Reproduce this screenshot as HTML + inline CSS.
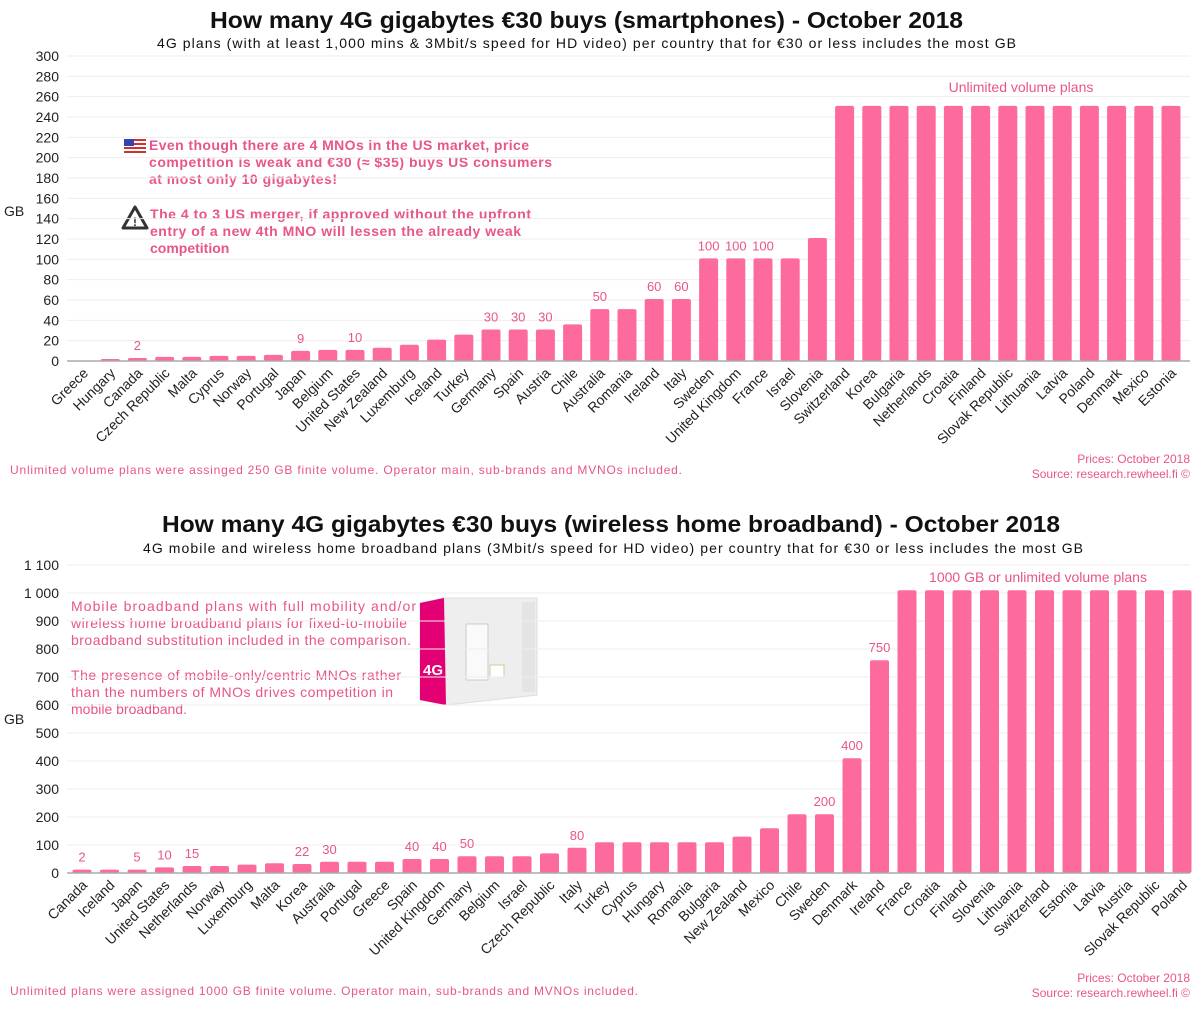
<!DOCTYPE html>
<html><head><meta charset="utf-8"><style>
body{margin:0;background:#fff;width:1200px;height:1014px;overflow:hidden;font-family:"Liberation Sans",sans-serif}
svg text{font-family:"Liberation Sans",sans-serif}
</style></head><body>
<svg id="s" width="1200" height="1014" xmlns="http://www.w3.org/2000/svg">
<text x="210" y="28" textLength="753" lengthAdjust="spacingAndGlyphs" font-size="23" font-weight="bold" fill="#111">How many 4G gigabytes €30 buys (smartphones) - October 2018</text>
<text x="157" y="48" textLength="859" lengthAdjust="spacing" font-size="14" fill="#111">4G plans (with at least 1,000 mins &amp; 3Mbit/s speed for HD video) per country that for €30 or less includes the most GB</text>
<text x="4" y="216" font-size="14" fill="#222">GB</text>
<text x="1021" y="92" text-anchor="middle" font-size="14" fill="#e8558a">Unlimited volume plans</text>
<g><rect x="124" y="139" width="22" height="14" fill="#c33"/><rect x="124" y="141" width="22" height="2" fill="#fff"/><rect x="124" y="145" width="22" height="2" fill="#fff"/><rect x="124" y="149" width="22" height="2" fill="#fff"/><rect x="124" y="139" width="10" height="7" fill="#34a"/></g>
<g font-size="14" font-weight="bold" fill="#e8558a">
<text x="149" y="150" textLength="380" lengthAdjust="spacing">Even though there are 4 MNOs in the US market, price</text>
<text x="149" y="167" textLength="403" lengthAdjust="spacing">competition is weak and €30 (≈ $35) buys US consumers</text>
<text x="149" y="184" textLength="188" lengthAdjust="spacing">at most only 10 gigabytes!</text>
<text x="150" y="219" textLength="381" lengthAdjust="spacing">The 4 to 3 US merger, if approved without the upfront</text>
<text x="150" y="236" textLength="371" lengthAdjust="spacing">entry of a new 4th MNO will lessen the already weak</text>
<text x="150" y="253">competition</text></g>
<g><path d="M135 207 L147 228 L123 228 Z" fill="none" stroke="#333" stroke-width="3" stroke-linejoin="round"/><text x="135" y="226" text-anchor="middle" font-size="12" font-weight="bold" fill="#333">!</text></g>
<text x="10" y="474" textLength="672" lengthAdjust="spacing" font-size="12" fill="#e8558a">Unlimited volume  plans were assinged 250 GB finite volume.  Operator main, sub-brands and MVNOs included.</text>
<text x="1190" y="463" text-anchor="end" font-size="12" fill="#e8558a">Prices: October 2018</text>
<text x="1190" y="478" text-anchor="end" font-size="12" fill="#e8558a">Source: research.rewheel.fi   ©</text>

<text x="162" y="532" textLength="898" lengthAdjust="spacingAndGlyphs" font-size="23" font-weight="bold" fill="#111">How many 4G gigabytes €30 buys (wireless home broadband) - October 2018</text>
<text x="143" y="553" textLength="940" lengthAdjust="spacing" font-size="14" fill="#111">4G mobile and wireless home broadband plans (3Mbit/s speed for HD video) per country that for €30 or less includes the most GB</text>
<text x="4" y="724" font-size="14" fill="#222">GB</text>
<text x="1038" y="582" text-anchor="middle" font-size="14" fill="#e8558a">1000 GB or unlimited volume plans</text>
<g font-size="14" fill="#e8558a">
<text x="71" y="611" textLength="345" lengthAdjust="spacing">Mobile broadband plans with full mobility and/or</text>
<text x="71" y="628" textLength="336" lengthAdjust="spacing">wireless home broadband plans for fixed-to-mobile</text>
<text x="71" y="645" textLength="340" lengthAdjust="spacing">broadband substitution included in the comparison.</text>
<text x="71" y="680" textLength="330" lengthAdjust="spacing">The presence of mobile-only/centric MNOs rather</text>
<text x="71" y="697" textLength="322" lengthAdjust="spacing">than the numbers of MNOs drives competition in</text>
<text x="71" y="714">mobile broadband.</text></g>
<g>
<rect x="416" y="590" width="130" height="118" fill="#fff"/>
<path d="M420 603 L444 598 L537 598 L537 695 L446 705 L420 700 Z" fill="#eee" stroke="#ddd"/>
<path d="M420 603 L444 598 L446 705 L420 700 Z" fill="#e20074"/>
<text x="433" y="675" text-anchor="middle" font-size="15" font-weight="bold" fill="#fff">4G</text>
<rect x="466" y="624" width="22" height="56" fill="#fafafa" stroke="#ccc"/>
<rect x="490" y="665" width="14" height="12" fill="#fff" stroke="#cc9"/>
<rect x="522" y="602" width="13" height="90" fill="#e4e4e4"/></g>
<text x="10" y="995" textLength="628" lengthAdjust="spacing" font-size="12" fill="#e8558a">Unlimited plans were assigned 1000 GB finite volume.  Operator main, sub-brands and MVNOs included.</text>
<text x="1190" y="982" text-anchor="end" font-size="12" fill="#e8558a">Prices: October 2018</text>
<text x="1190" y="997" text-anchor="end" font-size="12" fill="#e8558a">Source: research.rewheel.fi   ©</text>
</svg>
<script>
const topCats=["Greece","Hungary","Canada","Czech Republic","Malta","Cyprus","Norway","Portugal","Japan","Belgium","United States","New Zealand","Luxemburg","Iceland","Turkey","Germany","Spain","Austria","Chile","Australia","Romania","Ireland","Italy","Sweden","United Kingdom","France","Israel","Slovenia","Switzerland","Korea","Bulgaria","Netherlands","Croatia","Finland","Slovak Republic","Lithuania","Latvia","Poland","Denmark","Mexico","Estonia"];
const topVals=[0,2,3,4,4,5,5,6,10,11,11,13,16,21,26,31,31,31,36,51,51,61,61,101,101,101,101,121,251,251,251,251,251,251,251,251,251,251,251,251,251];
const topLabels=["","","2","","","","","","9","","10","","","","","30","30","30","","50","","60","60","100","100","100","","","","","","","","","","","","","","",""];
const topTicks=[0,20,40,60,80,100,120,140,160,180,200,220,240,260,280,300];
const topTickLabels=["0","20","40","60","80","100","120","140","160","180","200","220","240","260","280","300"];
const botCats=["Canada","Iceland","Japan","United States","Netherlands","Norway","Luxemburg","Malta","Korea","Australia","Portugal","Greece","Spain","United Kingdom","Germany","Belgium","Israel","Czech Republic","Italy","Turkey","Cyprus","Hungary","Romania","Bulgaria","New Zealand","Mexico","Chile","Sweden","Denmark","Ireland","France","Croatia","Finland","Slovenia","Lithuania","Switzerland","Estonia","Latvia","Austria","Slovak Republic","Poland"];
const botVals=[12,12,12,20,25,25,30,35,32,40,40,40,50,50,60,60,60,70,90,110,110,110,110,110,130,160,210,210,410,760,1010,1010,1010,1010,1010,1010,1010,1010,1010,1010,1010];
const botLabels=["2","","5","10","15","","","","22","30","","","40","40","50","","","","80","","","","","","","","","200","400","750","","","","","","","","","","",""];
const botTicks=[0,100,200,300,400,500,600,700,800,900,1000,1100];
const botTickLabels=["0","100","200","300","400","500","600","700","800","900","1 000","1 100"];
const NS="http://www.w3.org/2000/svg";
const svg=document.getElementById('s');
function mk(tag,attrs,txt){const e=document.createElementNS(NS,tag);for(const k in attrs)e.setAttribute(k,attrs[k]);if(txt!==undefined)e.textContent=txt;svg.appendChild(e);return e;}
function chart(p,cats,vals,labels,ticks,tickLabels){
  const y=v=>p.y0-(v-ticks[0])/(ticks[ticks.length-1]-ticks[0])*(p.y0-p.y1);
  const x=i=>p.xs+i*p.step;
  ticks.forEach((t,i)=>{
    const g=mk('line',{x1:p.xl,x2:p.xr,y1:y(t),y2:y(t),stroke:'#eee','stroke-width':1});
    
    
    const tl=mk('text',{x:p.xl-8,y:y(t)+5,'text-anchor':'end','font-size':14,fill:'#222'},tickLabels[i]);
    
    
  });
  cats.forEach((c,i)=>{
    const h=p.y0-y(vals[i]);
    const b=mk('rect',{x:x(i)-p.bw/2,y:p.y0-h,width:p.bw,height:h,fill:'#fd6b9e',rx:2});
    
    
    if(labels[i]){
      const v=mk('text',{x:x(i),y:y(vals[i])-8,'text-anchor':'middle','font-size':13,fill:'#e8558a'},labels[i]);
      
      
    }
    const cl=mk('text',{transform:`translate(${x(i)+6},${p.y0+13}) rotate(-45)`,'text-anchor':'end','font-size':14,fill:'#222'},c);
    
    
  });
  const ax=mk('line',{x1:p.xl,x2:p.xr,y1:p.y0,y2:p.y0,stroke:'#aaa','stroke-width':1.5});
  
  
}
chart({id:'top',xl:67,xr:1190,y0:361,y1:56,xs:83,step:27.2,bw:19},topCats,topVals,topLabels,topTicks,topTickLabels);
chart({id:'bottom',xl:67,xr:1190,y0:873,y1:565,xs:82,step:27.5,bw:19},botCats,botVals,botLabels,botTicks,botTickLabels);
</script>
</body></html>
